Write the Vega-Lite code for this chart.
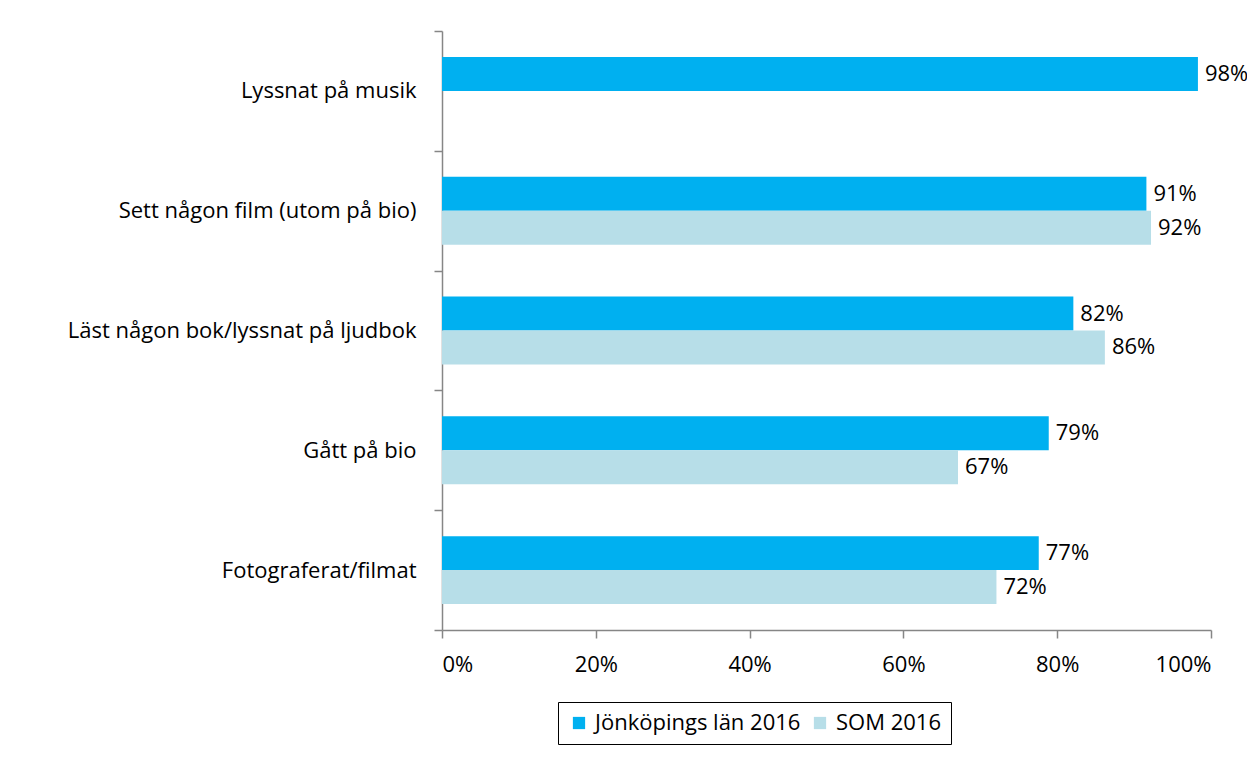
{
  "$schema": "https://vega.github.io/schema/vega-lite/v6.json",
  "width": 769,
  "height": 599,
  "autosize": "none",
  "padding": {"left": 442, "top": 31, "right": 36, "bottom": 137},
  "background": "white",
  "config": {
    "view": {"stroke": null},
    "font": "Open Sans",
    "axis": {"domainColor": "#868686", "tickColor": "#868686", "domainWidth": 1.5, "tickWidth": 1.5, "labelColor": "black", "labelFont": "Open Sans", "labelFontSize": 22, "grid": false, "title": null}
  },
  "data": {
    "values": [
      {"cat": "Lyssnat på musik", "series": "Jönköpings län 2016", "value": 0.983, "label": "98%"},
      {"cat": "Sett någon film (utom på bio)", "series": "Jönköpings län 2016", "value": 0.916, "label": "91%"},
      {"cat": "Sett någon film (utom på bio)", "series": "SOM 2016", "value": 0.922, "label": "92%"},
      {"cat": "Läst någon bok/lyssnat på ljudbok", "series": "Jönköpings län 2016", "value": 0.821, "label": "82%"},
      {"cat": "Läst någon bok/lyssnat på ljudbok", "series": "SOM 2016", "value": 0.862, "label": "86%"},
      {"cat": "Gått på bio", "series": "Jönköpings län 2016", "value": 0.789, "label": "79%"},
      {"cat": "Gått på bio", "series": "SOM 2016", "value": 0.671, "label": "67%"},
      {"cat": "Fotograferat/filmat", "series": "Jönköpings län 2016", "value": 0.776, "label": "77%"},
      {"cat": "Fotograferat/filmat", "series": "SOM 2016", "value": 0.721, "label": "72%"}
    ]
  },
  "encoding": {
    "y": {
      "field": "cat", "type": "nominal",
      "sort": ["Lyssnat på musik", "Sett någon film (utom på bio)", "Läst någon bok/lyssnat på ljudbok", "Gått på bio", "Fotograferat/filmat"],
      "scale": {"paddingInner": 0, "paddingOuter": 0},
      "axis": {"tickBand": "extent", "tickSize": 8, "labelPadding": 18, "labelLimit": 600}
    },
    "yOffset": {
      "field": "series", "type": "nominal",
      "sort": ["Jönköpings län 2016", "SOM 2016"],
      "scale": {"domain": ["Jönköpings län 2016", "SOM 2016"], "paddingInner": 0, "paddingOuter": 0.765}
    },
    "x": {
      "field": "value", "type": "quantitative",
      "scale": {"domain": [0, 1], "nice": false},
      "axis": {"values": [0, 0.2, 0.4, 0.6, 0.8, 1], "format": ".0%", "tickSize": 8, "labelPadding": 16}
    }
  },
  "layer": [
    {
      "mark": {"type": "bar"},
      "encoding": {
        "color": {
          "field": "series", "type": "nominal",
          "scale": {"domain": ["Jönköpings län 2016", "SOM 2016"], "range": ["#00B0F0", "#B7DEE8"]},
          "legend": {
            "orient": "none", "legendX": 116, "legendY": 671, "direction": "horizontal",
            "title": null, "strokeColor": "black", "padding": 10,
            "symbolType": "square", "symbolSize": 150, "symbolStrokeWidth": 0,
            "labelFontSize": 22, "labelFont": "Open Sans", "labelColor": "black", "labelLimit": 400,
            "columnPadding": 8, "labelOffset": 5, "fillColor": "white"
          }
        }
      }
    },
    {
      "mark": {"type": "text", "align": "left", "baseline": "middle", "dx": 7, "fontSize": 22, "font": "Open Sans", "color": "black"},
      "encoding": {
        "text": {"field": "label", "type": "nominal"}
      }
    }
  ]
}
